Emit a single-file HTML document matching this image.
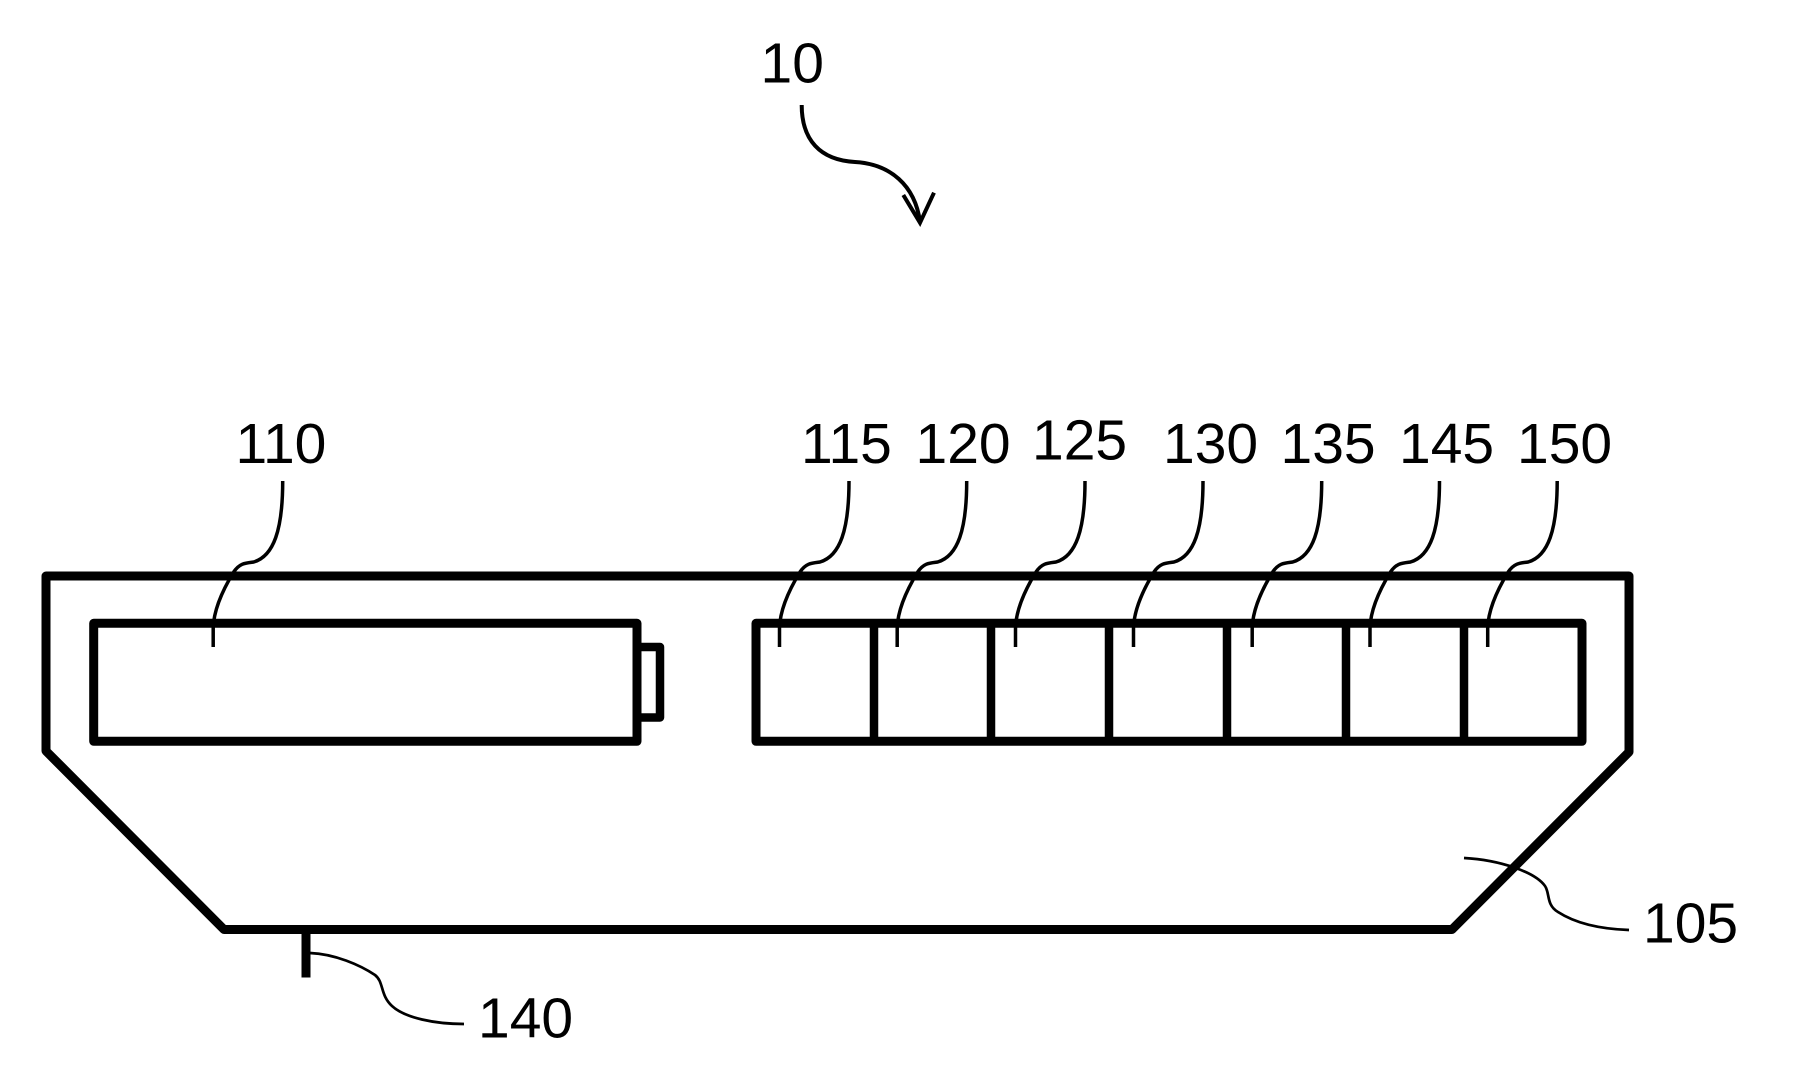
<!DOCTYPE html>
<html>
<head>
<meta charset="utf-8">
<style>
  html,body{margin:0;padding:0;background:#fff;}
  svg{display:block;}
  text{font-family:"Liberation Sans", Arial, sans-serif;font-size:57px;fill:#000;}
</style>
</head>
<body>
<svg width="1795" height="1075" viewBox="0 0 1795 1075" xmlns="http://www.w3.org/2000/svg">
  <rect x="0" y="0" width="1795" height="1075" fill="#fff"/>

  <!-- Reference label 10 and arrow -->
  <text x="760.5" y="82.3">10</text>
  <path d="M801.7 105 C801.7 140 820 160 855 162 C890 164 915 185 920 222" fill="none" stroke="#000" stroke-width="4"/>
  <path d="M903.3 195 L920 222.7 L934 192.7" fill="none" stroke="#000" stroke-width="4"/>

  <!-- Outer housing 105 -->
  <polygon points="46,576 1629,576 1629,752 1452,929.5 224,929.5 46,751" fill="none" stroke="#000" stroke-width="9" stroke-linejoin="round"/>

  <!-- Battery 110 -->
  <rect x="93.7" y="623.3" width="543.3" height="118" fill="none" stroke="#000" stroke-width="9" stroke-linejoin="round"/>
  <polyline points="641,647 660,647 660,717.5 641,717.5" fill="none" stroke="#000" stroke-width="8.5" stroke-linejoin="round"/>

  <!-- Module cells -->
  <rect x="756" y="623.3" width="826" height="118" fill="none" stroke="#000" stroke-width="9" stroke-linejoin="round"/>
  <g stroke="#000" stroke-width="8.5">
    <line x1="874" y1="623" x2="874" y2="741"/>
    <line x1="991" y1="623" x2="991" y2="741"/>
    <line x1="1109" y1="623" x2="1109" y2="741"/>
    <line x1="1227" y1="623" x2="1227" y2="741"/>
    <line x1="1346" y1="623" x2="1346" y2="741"/>
    <line x1="1464" y1="623" x2="1464" y2="741"/>
  </g>

  <!-- Leader lines -->
  <g fill="none" stroke="#000" stroke-width="3.5">
    <path transform="translate(282.7,481)" d="M0 0 C0 49 -9 75 -29 81 C-37 82 -43 82 -49 91 C-60 109 -69 129 -69.5 147 L-69.5 166"/>
    <path transform="translate(849,481)" d="M0 0 C0 49 -9 75 -29 81 C-37 82 -43 82 -49 91 C-60 109 -69 129 -69.5 147 L-69.5 166"/>
    <path transform="translate(966.7,481)" d="M0 0 C0 49 -9 75 -29 81 C-37 82 -43 82 -49 91 C-60 109 -69 129 -69.5 147 L-69.5 166"/>
    <path transform="translate(1085,481)" d="M0 0 C0 49 -9 75 -29 81 C-37 82 -43 82 -49 91 C-60 109 -69 129 -69.5 147 L-69.5 166"/>
    <path transform="translate(1203,481)" d="M0 0 C0 49 -9 75 -29 81 C-37 82 -43 82 -49 91 C-60 109 -69 129 -69.5 147 L-69.5 166"/>
    <path transform="translate(1321.7,481)" d="M0 0 C0 49 -9 75 -29 81 C-37 82 -43 82 -49 91 C-60 109 -69 129 -69.5 147 L-69.5 166"/>
    <path transform="translate(1439.5,481)" d="M0 0 C0 49 -9 75 -29 81 C-37 82 -43 82 -49 91 C-60 109 -69 129 -69.5 147 L-69.5 166"/>
    <path transform="translate(1557.2,481)" d="M0 0 C0 49 -9 75 -29 81 C-37 82 -43 82 -49 91 C-60 109 -69 129 -69.5 147 L-69.5 166"/>
  </g>

  <!-- Labels -->
  <text x="235.5" y="463">110</text>
  <text x="801" y="463">115</text>
  <text x="915.5" y="463">120</text>
  <text x="1032" y="459.3">125</text>
  <text x="1163" y="463">130</text>
  <text x="1280.5" y="463">135</text>
  <text x="1399" y="463">145</text>
  <text x="1517" y="463">150</text>

  <!-- 105 leader and label -->
  <path d="M1464 858 C1500 860 1535 872 1545 886 C1550 893 1546 905 1558 912 C1575 923 1600 929 1629 930" fill="none" stroke="#000" stroke-width="2.7"/>
  <text x="1643" y="942.3">105</text>

  <!-- 140 stub, leader and label -->
  <line x1="306" y1="929" x2="306" y2="977.5" stroke="#000" stroke-width="9"/>
  <path d="M310 953 C335 954 360 965 375 975 C384 982 380 995 392 1006 C405 1018 435 1024 464 1024" fill="none" stroke="#000" stroke-width="2.7"/>
  <text x="478" y="1037.3">140</text>
</svg>
</body>
</html>
